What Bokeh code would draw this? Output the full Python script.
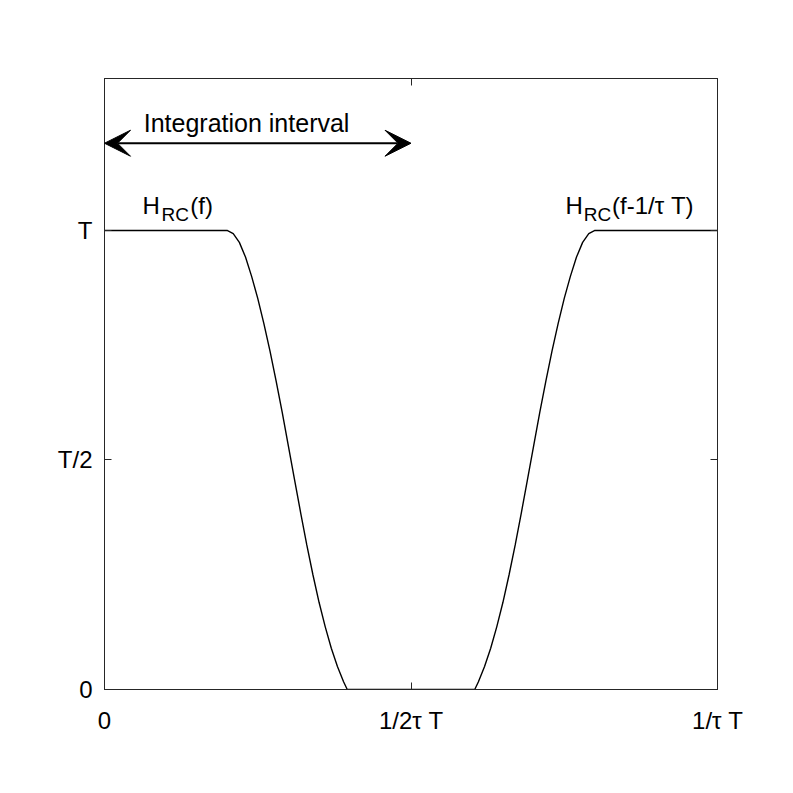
from bokeh.plotting import figure
from bokeh.models import (FixedTicker, LinearAxis, Label, Arrow, VeeHead, ColumnDataSource)
from bokeh.embed import file_html
from bokeh.resources import INLINE

# normalized frequency (1 = 1/tau T) and spectrum value (1 = T)
freq = [0.000, 0.200, 0.210, 0.220, 0.230, 0.240, 0.250, 0.260, 0.270, 0.280, 0.290, 0.300,
        0.310, 0.320, 0.330, 0.340, 0.350, 0.360, 0.370, 0.380, 0.390, 0.396,
        0.604, 0.610, 0.620, 0.630, 0.640, 0.650, 0.660, 0.670, 0.680, 0.690, 0.700,
        0.710, 0.720, 0.730, 0.740, 0.750, 0.760, 0.770, 0.780, 0.790, 0.800, 1.000]
spectrum = [1.000, 1.000, 0.993, 0.974, 0.942, 0.900, 0.852, 0.797, 0.737, 0.672, 0.603, 0.530,
            0.457, 0.385, 0.315, 0.250, 0.190, 0.137, 0.090, 0.050, 0.017, 0.000,
            0.000, 0.017, 0.050, 0.090, 0.137, 0.190, 0.250, 0.315, 0.385, 0.457, 0.530,
            0.603, 0.672, 0.737, 0.797, 0.852, 0.900, 0.942, 0.974, 0.993, 1.000, 1.000]

x_ticks = [0.0, 0.5, 1.0]
x_tick_labels = ["0", "1/2τ T", "1/τ T"]
y_ticks = [0.0, 0.5, 1.0]
y_tick_labels = ["0", "T/2", "T"]

interval_start = 0.0
interval_end = 0.5
arrow_level = 1.19

FONT = "Liberation Sans"
AX = "#262626"

p = figure(width=785, height=785, x_range=(0, 1), y_range=(0, 1.331),
           output_backend="svg", toolbar_location=None,
           min_border_left=104, min_border_right=68, min_border_top=78, min_border_bottom=96)
p.xgrid.visible = False
p.ygrid.visible = False
p.outline_line_color = AX
p.outline_line_width = 1

def style(ax, ticks, labels, show_labels=True):
    ax.ticker = FixedTicker(ticks=ticks)
    ax.major_label_overrides = {t: l for t, l in zip(ticks, labels)}
    ax.minor_tick_line_color = None
    ax.major_tick_in = 7
    ax.major_tick_out = 0
    ax.axis_line_color = AX
    ax.major_tick_line_color = AX
    ax.major_label_text_font = FONT
    ax.major_label_text_font_size = "24px"
    ax.major_label_text_color = "black" if show_labels else None

style(p.xaxis[0], x_ticks, x_tick_labels)
style(p.yaxis[0], y_ticks, y_tick_labels)
p.xaxis[0].major_label_standoff = 17
p.yaxis[0].major_label_standoff = 12

top = LinearAxis()
style(top, x_ticks, x_tick_labels, show_labels=False)
top.major_label_text_font_size = "1px"
p.add_layout(top, "above")
right = LinearAxis()
style(right, y_ticks, y_tick_labels, show_labels=False)
right.major_label_text_font_size = "1px"
p.add_layout(right, "right")

src = ColumnDataSource(data=dict(f=freq, h=spectrum))
p.line("f", "h", source=src, line_color="black", line_width=1.4)

p.add_layout(Arrow(x_start=interval_start, y_start=arrow_level, x_end=interval_end, y_end=arrow_level,
                   line_color="black", line_width=2,
                   start=VeeHead(size=26, fill_color="black", line_color="black"),
                   end=VeeHead(size=26, fill_color="black", line_color="black")))

def lab(x, y, text, size="24px"):
    p.add_layout(Label(x=x, y=y, text=text, text_font=FONT, text_font_size=size,
                       text_color="black", text_baseline="alphabetic", text_align="left"))

lab(0.064, 1.233, "Integration interval", "25px")
lab(0.062, 1.054, "H", "24px")
lab(0.093, 1.035, "RC", "19px")
lab(0.140, 1.054, "(f)", "24px")
lab(0.752, 1.054, "H", "24px")
lab(0.782, 1.035, "RC", "19px")
lab(0.828, 1.054, "(f-1/τ T)", "24px")

open("out.html", "w").write(file_html(p, INLINE))
